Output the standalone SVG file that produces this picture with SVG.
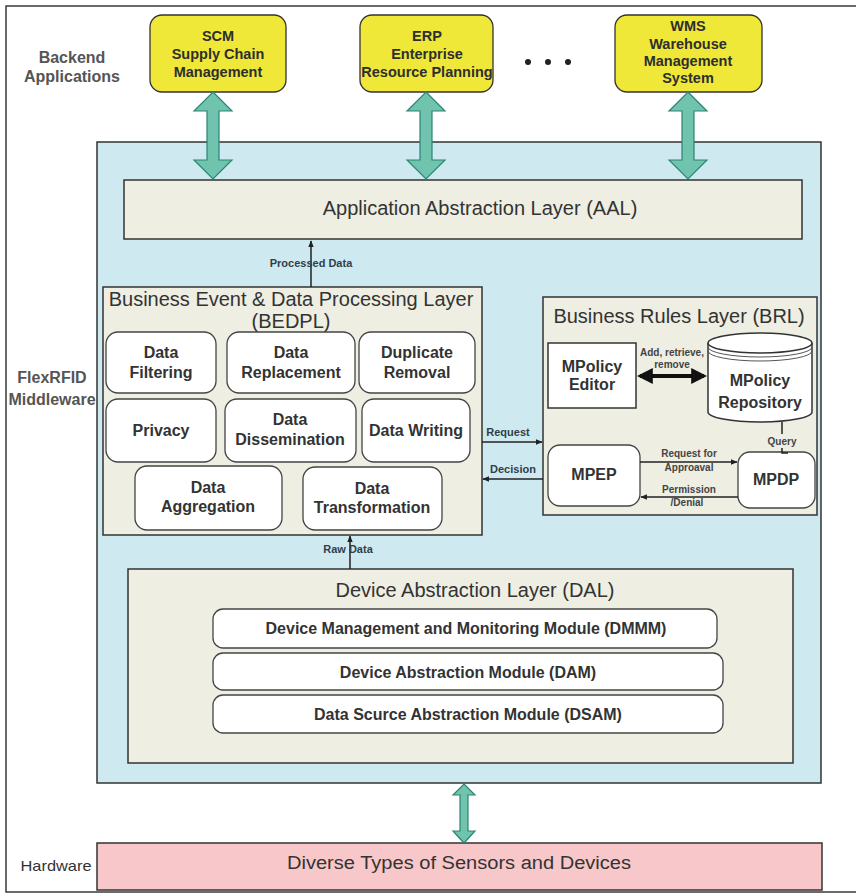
<svg xmlns="http://www.w3.org/2000/svg" width="856" height="893" viewBox="0 0 856 893">
  <defs>
    <style>
      .frame { fill: #ffffff; stroke: #3a3a3a; stroke-width: 1.5; }
      .panel { fill: #cfe9f0; stroke: #333; stroke-width: 1.5; }
      .layer { fill: #eeeee3; stroke: #333; stroke-width: 1.5; }
      .app { fill: #efe838; stroke: #333; stroke-width: 1.3; }
      .mod { fill: #ffffff; stroke: #444; stroke-width: 1.3; }
      .hw { fill: #f8c7c9; stroke: #333; stroke-width: 1.5; }
      .barrow { fill: #70c3ad; stroke: #2c8474; stroke-width: 1.2; stroke-linejoin: miter; }
      .conn { fill: none; stroke: #222; stroke-width: 1.5; }
      .thick { fill: none; stroke: #111; stroke-width: 4; }
      text { font-family: "Liberation Sans", Arial, sans-serif; fill: #333; text-anchor: middle; }
      .title { font-size: 20px; }
      .lbl { font-size: 16px; font-weight: bold; }
      .appt { font-size: 14.5px; font-weight: bold; fill: #2e2e2e; }
      .side { font-size: 16px; font-weight: bold; fill: #555; }
      .sm { font-size: 11px; font-weight: bold; fill: #2f3f4a; }
      .xs { font-size: 10px; font-weight: bold; fill: #444; }
    </style>
    <marker id="ah" viewBox="0 0 10 10" refX="9" refY="5" markerWidth="7" markerHeight="7" orient="auto-start-reverse" markerUnits="userSpaceOnUse">
      <path d="M0,1 L10,5 L0,9 z" fill="#222"/>
    </marker>
    <marker id="ahb" viewBox="0 0 10 10" refX="8" refY="5" markerWidth="4" markerHeight="4" orient="auto-start-reverse">
      <path d="M0,0 L10,5 L0,10 z" fill="#111"/>
    </marker>
  </defs>

  <!-- outer frame -->
  <rect class="frame" x="6" y="6" width="853" height="886"/>

  <!-- side labels -->
  <g id="side-labels">
    <text class="side" x="72" y="63">Backend</text>
    <text class="side" x="72" y="82">Applications</text>
    <text class="side" x="52" y="383">FlexRFID</text>
    <text class="side" x="52" y="405">Middleware</text>
    <text x="56" y="871" font-size="15" fill="#333" textLength="71" lengthAdjust="spacingAndGlyphs">Hardware</text>
  </g>

  <!-- middleware panel -->
  <rect id="flexrfid-panel" class="panel" x="97" y="142" width="724" height="641"/>

  <!-- backend applications -->
  <g id="scm">
    <rect class="app" x="150" y="15" width="136" height="77" rx="12"/>
    <text class="appt" x="218" y="41">SCM</text>
    <text class="appt" x="218" y="59">Supply Chain</text>
    <text class="appt" x="218" y="77">Management</text>
  </g>
  <g id="erp">
    <rect class="app" x="360" y="15" width="133" height="77" rx="12"/>
    <text class="appt" x="427" y="41">ERP</text>
    <text class="appt" x="427" y="59">Enterprise</text>
    <text class="appt" x="427" y="77">Resource Planning</text>
  </g>
  <g id="ellipsis">
    <circle cx="528" cy="62" r="3" fill="#222"/>
    <circle cx="548" cy="62" r="3" fill="#222"/>
    <circle cx="568" cy="62" r="3" fill="#222"/>
  </g>
  <g id="wms">
    <rect class="app" x="615" y="15" width="147" height="77" rx="12"/>
    <text class="appt" x="688" y="31">WMS</text>
    <text class="appt" x="688" y="49">Warehouse</text>
    <text class="appt" x="688" y="66">Management</text>
    <text class="appt" x="688" y="83">System</text>
  </g>

  <!-- application abstraction layer -->
  <g id="aal">
    <rect class="layer" x="124" y="180" width="678" height="59"/>
    <text class="title" x="480" y="215">Application Abstraction Layer (AAL)</text>
  </g>

  <!-- business event & data processing layer -->
  <g id="bedpl">
    <rect class="layer" x="103" y="287" width="379" height="248"/>
    <text class="title" x="291" y="306">Business Event &amp; Data Processing Layer</text>
    <text class="title" x="291" y="328">(BEDPL)</text>
  </g>
  <g id="data-filtering">
    <rect class="mod" x="106" y="332" width="110" height="61" rx="12"/>
    <text class="lbl" x="161" y="358">Data</text>
    <text class="lbl" x="161" y="378">Filtering</text>
  </g>
  <g id="data-replacement">
    <rect class="mod" x="227" y="332" width="128" height="61" rx="12"/>
    <text class="lbl" x="291" y="358">Data</text>
    <text class="lbl" x="291" y="378">Replacement</text>
  </g>
  <g id="duplicate-removal">
    <rect class="mod" x="359" y="332" width="116" height="61" rx="12"/>
    <text class="lbl" x="417" y="358">Duplicate</text>
    <text class="lbl" x="417" y="378">Removal</text>
  </g>
  <g id="privacy">
    <rect class="mod" x="106" y="399" width="110" height="63" rx="12"/>
    <text class="lbl" x="161" y="436">Privacy</text>
  </g>
  <g id="data-dissemination">
    <rect class="mod" x="225" y="399" width="131" height="63" rx="12"/>
    <text class="lbl" x="290" y="425">Data</text>
    <text class="lbl" x="290" y="445">Dissemination</text>
  </g>
  <g id="data-writing">
    <rect class="mod" x="362" y="399" width="108" height="63" rx="12"/>
    <text class="lbl" x="416" y="436">Data Writing</text>
  </g>
  <g id="data-aggregation">
    <rect class="mod" x="135" y="466" width="147" height="64" rx="12"/>
    <text class="lbl" x="208" y="493">Data</text>
    <text class="lbl" x="208" y="512">Aggregation</text>
  </g>
  <g id="data-transformation">
    <rect class="mod" x="303" y="467" width="139" height="63" rx="12"/>
    <text class="lbl" x="372" y="494">Data</text>
    <text class="lbl" x="372" y="513">Transformation</text>
  </g>

  <!-- business rules layer -->
  <g id="brl">
    <rect class="layer" x="543" y="297" width="274" height="218"/>
    <text class="title" x="679" y="323">Business Rules Layer (BRL)</text>
  </g>
  <g id="mpolicy-editor">
    <rect x="548" y="343" width="88" height="65" fill="#fff" stroke="#333" stroke-width="1.5"/>
    <text class="lbl" x="592" y="372">MPolicy</text>
    <text class="lbl" x="592" y="390">Editor</text>
  </g>
  <g id="mpolicy-repository">
    <path d="M708,343 L708,412 A52,10 0 0 0 812,412 L812,343" fill="#fff" stroke="#333" stroke-width="1.5"/>
    <ellipse cx="760" cy="343" rx="52" ry="10" fill="#fff" stroke="#333" stroke-width="1.5"/>
    <path d="M708,347 A52,10 0 0 0 812,347" fill="none" stroke="#555" stroke-width="1"/>
    <path d="M708,351 A52,10 0 0 0 812,351" fill="none" stroke="#555" stroke-width="1"/>
    <text class="lbl" x="760" y="386">MPolicy</text>
    <text class="lbl" x="760" y="408">Repository</text>
  </g>
  <g id="mpep">
    <rect class="mod" x="548" y="445" width="92" height="61" rx="12"/>
    <text class="lbl" x="594" y="480">MPEP</text>
  </g>
  <g id="mpdp">
    <rect class="mod" x="738" y="452" width="77" height="56" rx="12"/>
    <text class="lbl" x="776" y="485">MPDP</text>
  </g>

  <!-- device abstraction layer -->
  <g id="dal">
    <rect class="layer" x="128" y="569" width="665" height="194"/>
    <text class="title" x="475" y="597">Device Abstraction Layer (DAL)</text>
  </g>
  <g id="dmmm">
    <rect class="mod" x="213" y="609" width="504" height="39" rx="10"/>
    <text class="lbl" x="466" y="634">Device Management and Monitoring Module (DMMM)</text>
  </g>
  <g id="dam">
    <rect class="mod" x="213" y="653" width="510" height="37" rx="10"/>
    <text class="lbl" x="468" y="678">Device Abstraction Module (DAM)</text>
  </g>
  <g id="dsam">
    <rect class="mod" x="213" y="695" width="510" height="38" rx="10"/>
    <text class="lbl" x="468" y="720">Data Scurce Abstraction Module (DSAM)</text>
  </g>

  <!-- hardware -->
  <g id="sensors">
    <rect class="hw" x="97" y="843" width="725" height="47"/>
    <text x="459" y="869" font-size="18" fill="#333" textLength="344" lengthAdjust="spacingAndGlyphs">Diverse Types of Sensors and Devices</text>
  </g>

  <!-- connectors -->
  <g id="connectors">
    <!-- backend <-> AAL block arrows -->
    <polygon class="barrow" points="213,92 232,111 219,111 219,160 232,160 213,179 194,160 207,160 207,111 194,111"/>
    <polygon class="barrow" points="426,92 445,111 432,111 432,160 445,160 426,179 407,160 420,160 420,111 407,111"/>
    <polygon class="barrow" points="688,92 707,111 694,111 694,160 707,160 688,179 669,160 682,160 682,111 669,111"/>
    <!-- middleware <-> hardware -->
    <polygon class="barrow" points="464,784 475,795 468,795 468,831 475,831 464,843 453,831 460,831 460,795 453,795"/>

    <!-- processed data / raw data -->
    <line class="conn" x1="311" y1="287" x2="311" y2="241" marker-end="url(#ah)"/>
    <text class="sm" x="311" y="267">Processed Data</text>
    <line class="conn" x1="350" y1="569" x2="350" y2="536" marker-end="url(#ah)"/>
    <text class="sm" x="348" y="553">Raw Data</text>

    <!-- BEDPL <-> BRL -->
    <line class="conn" x1="482" y1="442" x2="542" y2="442" marker-end="url(#ah)"/>
    <text class="sm" x="508" y="436">Request</text>
    <line class="conn" x1="543" y1="479" x2="483" y2="479" marker-end="url(#ah)"/>
    <text class="sm" x="513" y="473">Decision</text>

    <!-- editor <-> repository -->
    <line class="thick" x1="640" y1="376" x2="704" y2="376" marker-start="url(#ahb)" marker-end="url(#ahb)"/>
    <text class="xs" x="672" y="356">Add, retrieve,</text>
    <text class="xs" x="672" y="368">remove</text>

    <!-- repository - MPDP -->
    <line class="conn" x1="782" y1="422" x2="782" y2="434"/>
    <path class="conn" d="M782,448 L782,453 L788,453"/>
    <text class="xs" x="782" y="445">Query</text>

    <!-- MPEP <-> MPDP -->
    <line class="conn" x1="640" y1="462" x2="737" y2="462" marker-end="url(#ah)"/>
    <text class="xs" x="689" y="457">Request for</text>
    <text class="xs" x="689" y="471">Approaval</text>
    <line class="conn" x1="738" y1="497" x2="641" y2="497" marker-end="url(#ah)"/>
    <text class="xs" x="689" y="493">Permission</text>
    <text class="xs" x="687" y="506">/Denial</text>
  </g>
</svg>
